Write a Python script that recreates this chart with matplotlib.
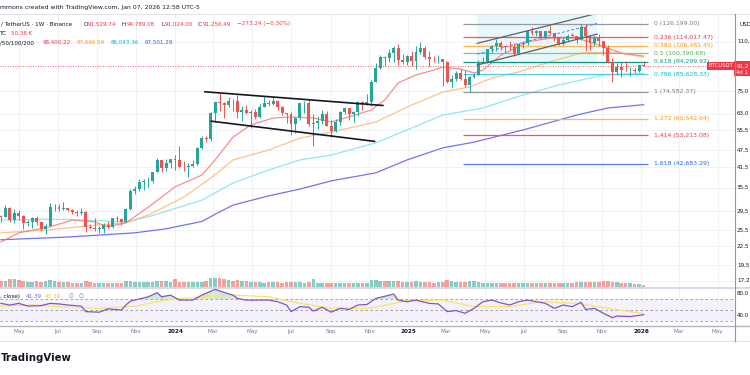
import numpy as np
import matplotlib
matplotlib.use("Agg")
import matplotlib.pyplot as plt
import matplotlib.dates as mdates
import matplotlib.transforms as mtransforms
from matplotlib.lines import Line2D
from matplotlib.patches import Rectangle
from matplotlib.ticker import NullLocator

plt.rcParams['font.family'] = ['DejaVu Sans']

# ---------------- data (weekly BTCUSDT, first bar = week of 2023-04-03) ----------------
first_week = np.datetime64('2023-04-03')
first_open = 28450.0

highs = [28800, 31000, 30480, 30040, 29840, 28630, 27650, 28260, 28450, 27350,
         26800, 31430, 31280, 31380, 31800, 30340, 29990, 29740, 30250, 29700,
         26800, 28140, 26440, 26880, 27480, 28050, 28580, 28000, 30370, 35200,
         35980, 37980, 37900, 38420, 40000, 44700, 44000, 44400, 43800, 45880,
         48970, 43570, 42840, 43860, 48600, 52820, 52990, 64000, 69170, 73780,
         68900, 71730, 70330, 72800, 66870, 67200, 64730, 65500, 67700, 71980,
         70000, 72000, 70200, 66970, 63370, 63860, 61400, 68370, 69400, 70000,
         62700, 61800, 65000, 64500, 59800, 60600, 64130, 66500, 66000, 64470,
         69400, 69500, 73620, 81500, 93480, 99590, 98800, 104000, 106500, 108350,
         99960, 99000, 102700, 106000, 109600, 106450, 102500, 98800, 99500, 96500,
         95000, 85300, 87450, 88750, 88500, 84000, 86500, 95800, 97900, 104350,
         107100, 111980, 110400, 106800, 110500, 108900, 108500, 110500, 119500, 123200,
         120250, 119800, 119300, 124470, 117600, 113800, 113400, 116700, 117900, 115400,
         125700, 126199, 116000, 115000, 116400, 110800, 107500, 96600, 93100, 94200,
         94600, 90400, 90000, 91700, 94789.08]
lows = [27200, 28170, 27120, 26940, 27660, 25810, 26350, 25880, 26500, 25350,
        24800, 26260, 29500, 29700, 29950, 29500, 28860, 28580, 28700, 25170,
        25800, 25330, 24900, 24900, 26000, 25990, 27200, 26530, 27110, 29900,
        33900, 34600, 34800, 35630, 36700, 39970, 40200, 40500, 41400, 40750,
        41500, 40280, 38550, 41800, 42260, 47700, 50520, 50900, 59000, 64500,
        60760, 66460, 64500, 60660, 59600, 62800, 56550, 60190, 60750, 66100,
        66600, 67400, 65000, 62400, 58400, 53500, 54260, 59900, 63430, 57100,
        49000, 56100, 57900, 57200, 52550, 54600, 57500, 62700, 59830, 58900,
        62000, 65000, 67450, 66800, 80200, 89000, 90800, 94000, 94150, 92000,
        92500, 91500, 91200, 89250, 100000, 96150, 91200, 94100, 93400, 78250,
        80000, 76600, 81200, 81600, 77150, 74582, 83100, 85100, 92900, 93400,
        100700, 102000, 103100, 100400, 103000, 98200, 100000, 105100, 107400, 115700,
        114700, 112000, 112700, 116800, 110700, 107300, 107250, 110600, 114700, 108600,
        111500, 102000, 103500, 106650, 106300, 98950, 93000, 80600, 85300, 83800,
        87500, 84400, 86600, 86900, 91024.00]
closes = [28320, 30300, 27590, 29230, 28430, 26910, 27100, 28070, 27230, 25840,
          26340, 30470, 30590, 30170, 30230, 29860, 29280, 29050, 29400, 26090,
          26000, 25830, 25840, 26530, 26250, 27970, 27920, 27150, 29990, 34520,
          35010, 37060, 37350, 37450, 39970, 43990, 41370, 43000, 44180, 43950,
          41730, 41580, 42030, 42580, 48300, 52140, 51730, 63110, 68950, 68390,
          67210, 69650, 69360, 63900, 64950, 63100, 63880, 61500, 66270, 68500,
          67770, 69650, 66200, 63200, 62700, 58000, 60800, 68150, 68250, 58140,
          58700, 59450, 62800, 57300, 54870, 59130, 63580, 65600, 62800, 63900,
          69000, 68000, 68750, 80400, 89860, 97900, 97300, 101100, 104460, 95200,
          93700, 98300, 94500, 101300, 104700, 97700, 96500, 96100, 96250, 94270,
          80700, 82600, 86100, 82400, 78400, 83800, 85200, 93750, 94300, 104100,
          106450, 109000, 105700, 105600, 105500, 100900, 108350, 109200, 119100, 117300,
          119400, 114200, 119300, 117400, 113500, 108250, 111150, 115300, 115250, 112100,
          123500, 115100, 108650, 114500, 110500, 104700, 94200, 86800, 90400, 88300,
          88200, 88400, 87600, 91529.74, 91256.49]
volume_k = [125, 139, 183, 176, 147, 125, 110, 110, 125, 110,
            139, 161, 125, 110, 110, 103, 95, 95, 95, 132,
            117, 95, 95, 95, 95, 95, 95, 95, 139, 139,
            110, 110, 110, 110, 110, 125, 125, 139, 110, 176,
            117, 110, 110, 110, 110, 110, 125, 191, 205, 205,
            176, 147, 139, 147, 139, 125, 103, 100, 105, 98,
            103, 100, 103, 98, 103, 105, 100, 103, 98, 110,
            169, 90, 88, 92, 86, 88, 90, 88, 86, 90,
            88, 92, 95, 161, 161, 139, 125, 139, 139, 132,
            117, 103, 110, 125, 117, 110, 103, 98, 103, 105,
            161, 139, 117, 103, 110, 125, 125, 105, 95, 90,
            88, 85, 90, 85, 82, 85, 88, 81, 85, 82,
            81, 85, 88, 82, 81, 85, 82, 81, 85, 103,
            110, 117, 110, 110, 117, 125, 132, 110, 103, 95,
            88, 81, 73, 73, 50.38]

# moving averages (bar index, value)
ema20_idx = [0, 4, 11, 16, 21, 24, 28, 33, 39, 45, 48, 52, 56, 61, 65, 70, 74, 78, 83, 86,
             89, 93, 97, 99, 103, 106, 108, 112, 118, 123, 129, 132, 136, 139, 144]
ema20 = [23300, 25000, 26200, 27600, 27200, 26200, 27000, 30500, 35700, 39100, 44000, 52500,
         57700, 60900, 61400, 60900, 59000, 61400, 64800, 70000, 79900, 85000, 88300, 90400,
         89000, 86300, 88300, 99000, 109700, 113200, 113200, 109700, 104800, 100800, 98400]
ema50_idx = [0, 11, 22, 28, 33, 41, 47, 52, 60, 67, 74, 84, 91, 99, 105, 110, 116, 123, 130, 137, 144]
ema50 = [25000, 25600, 26600, 27000, 28700, 33000, 38200, 44000, 47500, 52100, 54600, 59000,
         66300, 74500, 77400, 83000, 87000, 94000, 100800, 101600, 97670]
ema100_idx = [0, 11, 19, 28, 33, 45, 52, 60, 67, 74, 84, 91, 99, 108, 117, 125, 135, 144]
ema100 = [27600, 27800, 27600, 27200, 28300, 32200, 36800, 40700, 44000, 45700, 50200, 55500,
          62300, 65800, 72800, 78600, 85000, 86040]
ema200_idx = [0, 15, 30, 37, 45, 49, 52, 60, 67, 74, 84, 91, 99, 106, 117, 129, 136, 144]
ema200 = [23700, 24200, 25000, 25800, 27300, 29400, 31000, 33300, 35100, 37400, 39800, 44000,
          48300, 50500, 55500, 62300, 65800, 67500]

rsi_idx = [0, 2, 4, 6, 9, 11, 13, 15, 18, 19, 22, 24, 27, 28, 29, 30, 33, 35, 36, 38, 40, 43, 45,
           48, 50, 52, 53, 55, 57, 60, 62, 64, 65, 67, 69, 70, 72, 74, 76, 78, 80, 82, 84, 86, 88,
           89, 91, 93, 96, 98, 100, 102, 104, 106, 108, 110, 112, 114, 116, 118, 120, 122, 124,
           126, 128, 130, 131, 133, 135, 137, 138, 141, 144]
rsi = [62, 59, 62, 57, 58, 62, 61, 59, 57, 47, 46, 52, 50, 59, 66, 68, 74, 81.5, 74, 77, 68, 68, 77,
       87.6, 82, 77, 71, 68, 68, 68, 65, 59, 47, 56, 55, 48, 55, 46, 53, 51, 59, 60, 71, 75, 79,
       68, 65, 68, 62, 61, 47, 49, 44, 53, 65, 68, 63, 59, 65, 68, 65, 62, 53,
       59, 56, 64, 51, 53, 44, 36, 39, 38, 41.39]
rsi_ma_idx = [0, 7, 15, 22, 30, 37, 45, 52, 60, 67, 74, 82, 84, 91, 99, 106, 114, 121, 129, 136, 144]
rsi_ma = [57, 59, 55, 53, 57, 68, 74, 77, 74, 62, 53, 53, 55, 67, 68, 56, 56, 65, 62, 53, 43.39]

fib_levels = ['0', '0.236', '0.382', '0.5', '0.618', '0.786', '1', '1.272', '1.414', '1.618']
fib_prices = [126199.00, 114017.47, 106481.45, 100390.68, 94299.92, 85628.33, 74582.37,
              60542.64, 53213.08, 42683.29]
fib_start, fib_end = '2025-03-28', '2026-01-12'

flag_upper = [('2024-02-17', 74600), ('2024-11-22', 67100)]
flag_lower = [('2024-02-27', 59400), ('2024-11-09', 50800)]
channel_upper = [('2025-04-19', 108600), ('2025-10-24', 137000)]
channel_lower = [('2025-04-19', 91800), ('2025-10-24', 116600)]
channel_mid = [('2025-04-19', 99900), ('2025-10-24', 126700)]

# right price scale: tick values and the part of each label left inside the picture
price_ticks = [110000, 75000, 63000, 55500, 47500, 41500, 35500, 29500, 25500, 22500, 19500, 17250]
price_tick_text = ['110,', '75,0', '63,0', '55,5', '47,5', '41,5', '35,5', '29,5', '25,5', '22,5',
                   '19,5', '17,2']
rsi_ticks = [80, 40]
rsi_tick_text = ['80.0', '40.0']
month_ticks = ['2023-05-01', '2023-07-01', '2023-09-01', '2023-11-01', '2024-01-01', '2024-03-01',
               '2024-05-01', '2024-07-01', '2024-09-01', '2024-11-01', '2025-01-01', '2025-03-01',
               '2025-05-01', '2025-07-01', '2025-09-01', '2025-11-01', '2026-01-01', '2026-03-01',
               '2026-05-01']
month_labels = ['May', 'Jul', 'Sep', 'Nov', '2024', 'Mar', 'May', 'Jul', 'Sep', 'Nov', '2025', 'Mar',
                'May', 'Jul', 'Sep', 'Nov', '2026', 'Mar', 'May']
last_price = 91256.49

# ---------------- style ----------------
UP, DOWN = '#26a69a', '#ef5350'
TEXT, GRAY, GRID = '#131722', '#787b86', '#eef1f6'
FS = 4.1
W, H = 750, 375


def fx(x):
    return x / W


def fy(y):
    return 1 - y / H


def to_num(d):
    return mdates.date2num(np.datetime64(d))


def bar_x(idx):
    return mdates.date2num(first_week + 7 * np.asarray(idx))


fig = plt.figure(figsize=(7.5, 3.75), dpi=100)
fig.patch.set_facecolor('white')

ax = fig.add_axes([0, fy(287), fx(735), (287 - 14) / H])
ax_vol = fig.add_axes([0, fy(287), fx(735), 12 / H], sharex=ax)
ax_rsi = fig.add_axes([0, fy(325), fx(735), 37 / H], sharex=ax)

x0 = to_num('2024-01-01') - 175 / 0.6375
x1 = x0 + 735 / 0.6375
ax.set_xlim(x0, x1)

# ---- main pane ----
ax.set_yscale('log')
ax.set_ylim(16429, 136345)
ax.set_yticks(price_ticks)
ax.yaxis.set_minor_locator(NullLocator())
ax.set_xticks([to_num(d) for d in month_ticks])
ax.grid(True, color=GRID, lw=0.7)
ax.tick_params(left=False, labelleft=False, bottom=False, labelbottom=False)
for s in ax.spines.values():
    s.set_visible(False)

xs = bar_x(np.arange(len(closes)))
opens = [first_open] + closes[:-1]
cols = [UP if c >= o else DOWN for o, c in zip(opens, closes)]
ax.vlines(xs, lows, highs, colors=cols, lw=0.7, zorder=3)
bottoms = [min(o, c) for o, c in zip(opens, closes)]
heights = [max(abs(c - o), min(o, c) * 0.004) for o, c in zip(opens, closes)]
ax.bar(xs, heights, bottom=bottoms, width=4.6, color=cols, zorder=4, linewidth=0)

for idx, vals, c in [(ema200_idx, ema200, '#5b5bf0'), (ema100_idx, ema100, '#7fe3f0'),
                     (ema50_idx, ema50, '#ffb870'), (ema20_idx, ema20, '#f47c7c')]:
    ax.plot(bar_x(idx), vals, color=c, lw=0.9, alpha=0.85, zorder=2)

fib_colors = ['#9598a1', '#f7525f', '#ffb74d', '#81c784', '#089981', '#4dd0e1', '#9598a1',
              '#ffb74d', '#f7525f', '#5b7cf5']
label_colors = ['#787b86', '#f23645', '#ff9800', '#4caf50', '#089981', '#00bcd4', '#787b86',
                '#ff9800', '#f23645', '#2962ff']
ax.hlines(fib_prices, to_num(fib_start), to_num(fib_end), colors=fib_colors, lw=0.9, zorder=2)
blend = mtransforms.blended_transform_factory(fig.transFigure, ax.transData)
for lvl, p, c in zip(fib_levels, fib_prices, label_colors):
    fig.text(fx(654), p, f'{lvl} ({p:,.2f})', transform=blend, fontsize=4.4, color=c, va='center')

# channel fill and lines
ax.fill_between([to_num(channel_upper[0][0]), to_num(channel_upper[1][0])], channel_lower[0][1],
                136345, color='#d9f2f7', alpha=0.6, zorder=1, lw=0)
for seg, c, ls, lw in [(channel_upper, '#5d606b', '-', 0.9), (channel_lower, '#5d606b', '-', 0.9),
                       (channel_mid, '#5b7cf5', (0, (3, 2)), 0.7),
                       (flag_upper, '#131722', '-', 1.2), (flag_lower, '#131722', '-', 1.2)]:
    ax.plot([to_num(seg[0][0]), to_num(seg[1][0])], [seg[0][1], seg[1][1]], color=c, ls=ls, lw=lw, zorder=5)

ax.axhline(last_price, color='#f23645', lw=0.6, ls=(0, (1, 2)), zorder=2)

# ---- volume ----
ax_vol.set_ylim(0, 264)
ax_vol.bar(xs, volume_k, width=5.6, color=cols, alpha=0.55, linewidth=0)
ax_vol.axis('off')
ax_vol.patch.set_alpha(0)

# ---- RSI pane ----
ax_rsi.set_ylim(22.7, 90)
ax_rsi.axhspan(30, 70, color='#7e57c2', alpha=0.08, lw=0)
for lvl in (70, 50, 30):
    ax_rsi.axhline(lvl, color='#9598a1', lw=0.6, ls=(0, (3, 3)))
rx = bar_x(rsi_idx)
ax_rsi.fill_between(rx, rsi, 70, where=np.array(rsi) >= 70, interpolate=True, color='#4caf50',
                    alpha=0.25, lw=0)
ax_rsi.plot(bar_x(rsi_ma_idx), rsi_ma, color='#fbe26b', lw=0.9)
ax_rsi.plot(rx, rsi, color='#7e57c2', lw=0.9)
ax_rsi.set_yticks([])
ax_rsi.grid(True, axis='x', color=GRID, lw=0.7)
ax_rsi.set_xticks([to_num(d) for d in month_ticks])
ax_rsi.set_xticklabels(month_labels)
ax_rsi.tick_params(axis='x', length=0, pad=3, labelsize=FS, labelcolor=GRAY)
for t in ax_rsi.get_xticklabels():
    if t.get_text().isdigit():
        t.set_color(TEXT)
        t.set_fontweight('bold')
for s in ax_rsi.spines.values():
    s.set_visible(False)

# ---- frame lines ----
for (xa, ya, xb, yb, c, lw) in [(0, 14, 750, 14, '#e0e3eb', 0.8), (0, 288, 750, 288, '#d1d4dc', 1.2),
                                (0, 326, 750, 326, '#b2b5be', 1.0), (0, 341, 750, 341, '#e0e3eb', 0.8),
                                (735, 14, 735, 341, '#9598a1', 0.8)]:
    fig.add_artist(Line2D([fx(xa), fx(xb)], [fy(ya), fy(yb)], transform=fig.transFigure, color=c, lw=lw))

# ---- right axis labels (cut by the picture edge, as in the snapshot) ----
fig.text(fx(739.5), fy(25), 'USD', fontsize=FS, color=TEXT, va='center')
for p, t in zip(price_ticks, price_tick_text):
    fig.text(fx(737), p, t, transform=blend, fontsize=FS, color=TEXT, va='center')
blend_rsi = mtransforms.blended_transform_factory(fig.transFigure, ax_rsi.transData)
for v, t in zip(rsi_ticks, rsi_tick_text):
    fig.text(fx(737), v, t, transform=blend_rsi, fontsize=FS, color=TEXT, va='center')

fig.canvas.draw()
yp = fig.transFigure.inverted().transform(ax.transData.transform((x0, last_price)))[1]
fig.add_artist(Rectangle((fx(734), yp - 10.5 / H), fx(16), 15 / H, transform=fig.transFigure,
                         color='#f23645', lw=0))
fig.text(fx(736.5), yp, '91,2', fontsize=FS, color='white', va='center')
fig.text(fx(736.5), yp - 6.5 / H, '4d 1', fontsize=3.9, color='white', va='center')
fig.add_artist(Rectangle((fx(707), yp - 3.8 / H), fx(27), 7.6 / H, transform=fig.transFigure,
                         color='#f23645', lw=0))
fig.text(fx(720.5), yp, 'BTCUSDT', fontsize=3.8, color='white', va='center', ha='center')

# ---- legend / header texts ----
RED = '#f23645'
fig.text(fx(0), fy(8), 'mmons created with TradingView.com, Jan 07, 2026 12:58 UTC-5', fontsize=4.4,
         color=TEXT, va='center')
for txt, x, c in [('/ TetherUS · 1W · Binance', 1, TEXT), ('O', 83.5, TEXT), ('91,529.74', 88, RED),
                  ('H', 122, TEXT), ('94,789.08', 126.5, RED), ('L', 161, TEXT),
                  ('91,024.00', 164.5, RED), ('C', 198, TEXT), ('91,256.49', 202.5, RED),
                  ('\u2212273.24 (\u22120.30%)', 237, RED)]:
    fig.text(fx(x), fy(24), txt, fontsize=FS, color=c, va='center')
fig.text(fx(0), fy(33.3), 'TC', fontsize=FS, color=TEXT, va='center')
fig.text(fx(11), fy(33.3), '50.38 K', fontsize=FS, color=RED, va='center')
for txt, x, c in [('/50/100/200', 0, TEXT), ('98,400.22', 43, RED), ('97,666.59', 77, '#ff9800'),
                  ('86,043.36', 111, '#00bcd4'), ('67,501.28', 145, '#2962ff')]:
    fig.text(fx(x), fy(42.7), txt, fontsize=FS, color=c, va='center')
for txt, x, c in [(', close)', 0, TEXT), ('41.39', 26, '#7e57c2'), ('43.39', 45, '#f9c802'),
                  ('\u2205', 69, GRAY), ('\u2205', 79, GRAY)]:
    fig.text(fx(x), fy(296.5), txt, fontsize=FS, color=c, va='center')

fig.text(fx(0.5), fy(358), 'TradingView', fontsize=7.3, fontweight='bold', color=TEXT, va='center')

fig.savefig('out.png', dpi=100, facecolor='white')
